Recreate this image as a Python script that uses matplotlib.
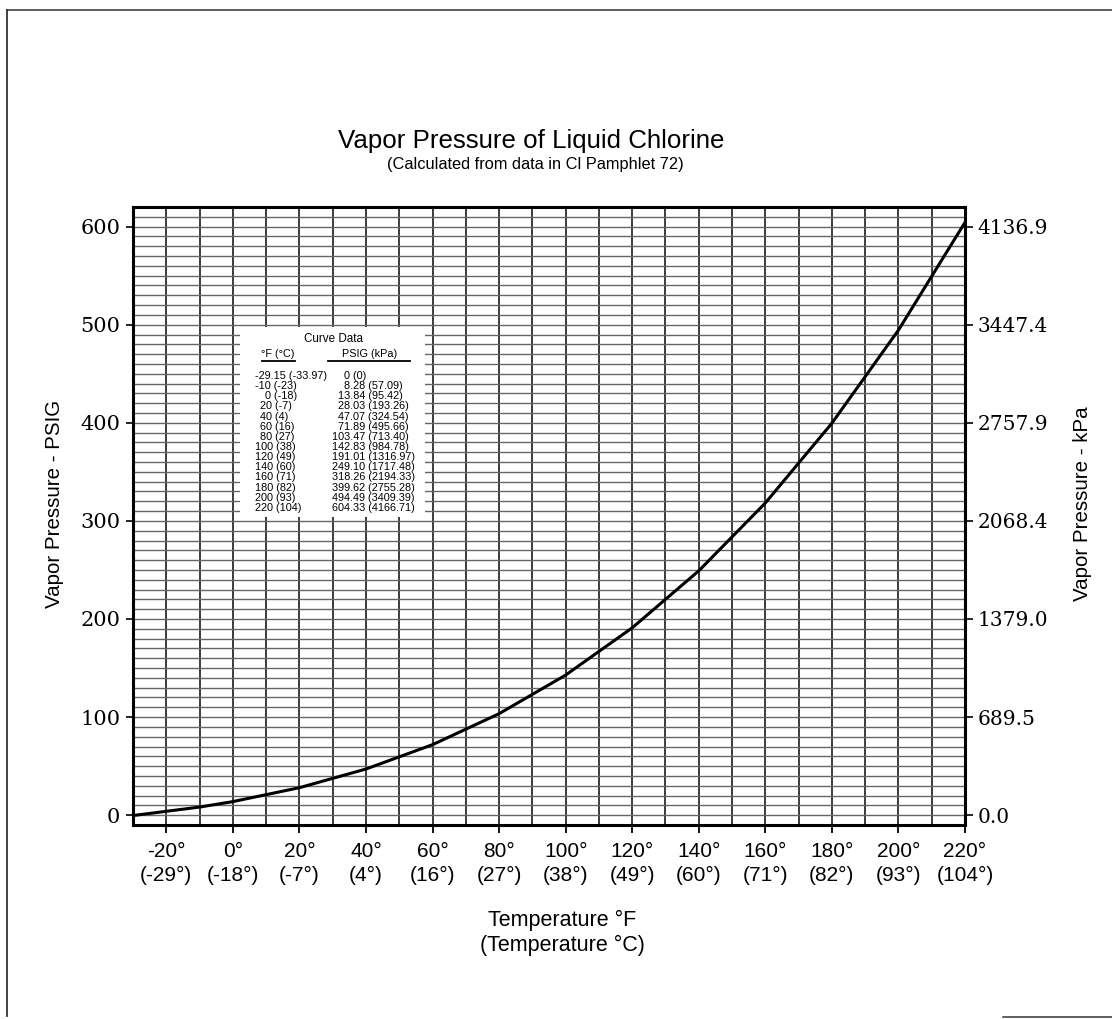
import matplotlib
matplotlib.use("Agg")
import matplotlib.pyplot as plt
from matplotlib.ticker import MultipleLocator, FixedLocator, FixedFormatter
from matplotlib.patches import Rectangle
from matplotlib.lines import Line2D

# ---------------- data ----------------
temp_f = [-29.15, -10, 0, 20, 40, 60, 80, 100, 120, 140, 160, 180, 200, 220]
temp_c = [-33.97, -23, -18, -7, 4, 16, 27, 38, 49, 60, 71, 82, 93, 104]
psig = [0, 8.28, 13.84, 28.03, 47.07, 71.89, 103.47, 142.83, 191.01, 249.10,
        318.26, 399.62, 494.49, 604.33]
kpa = [0, 57.09, 95.42, 193.26, 324.54, 495.66, 713.40, 984.78, 1316.97,
       1717.48, 2194.33, 2755.28, 3409.39, 4166.71]

xtick_f = [-20, 0, 20, 40, 60, 80, 100, 120, 140, 160, 180, 200, 220]
xtick_c = [-29, -18, -7, 4, 16, 27, 38, 49, 60, 71, 82, 93, 104]
ytick_psig = [0, 100, 200, 300, 400, 500, 600]
ytick_kpa = ["0.0", "689.5", "1379.0", "2068.4", "2757.9", "3447.4", "4136.9"]

title = "Vapor Pressure of Liquid Chlorine"
subtitle = "(Calculated from data in Cl Pamphlet 72)"

SANS = "Liberation Sans"
SERIF = "DejaVu Serif"

W, H = 1112, 1019
fig = plt.figure(figsize=(W / 100, H / 100), dpi=100)
fig.patch.set_facecolor("white")

L, R, T, B = 133, 965, 207, 825
ax = fig.add_axes([L / W, 1 - B / H, (R - L) / W, (B - T) / H])
ax.set_xlim(-30, 220)
ax.set_ylim(-10, 620)

# grid
ax.set_axisbelow(True)
ax.xaxis.set_minor_locator(MultipleLocator(10))
ax.yaxis.set_minor_locator(MultipleLocator(10))
ax.xaxis.set_major_locator(FixedLocator(xtick_f))
ax.yaxis.set_major_locator(FixedLocator(ytick_psig))
ax.grid(which="both", axis="x", color="#1a1a1a", lw=1.2)
ax.grid(which="both", axis="y", color="#666666", lw=1.0)
ax.tick_params(which="minor", length=0)

# frame
for s in ax.spines.values():
    s.set_linewidth(2.2)
    s.set_color("black")

# curve
ax.plot(temp_f, psig, color="black", lw=2.2, solid_joinstyle="round", zorder=4)

# ticks
ax.xaxis.set_major_formatter(FixedFormatter([f"{f}°\n({c}°)" for f, c in zip(xtick_f, xtick_c)]))
ax.tick_params(axis="x", which="major", direction="out", length=6, width=1.3,
               pad=6, labelsize=15)
for lab in ax.get_xticklabels():
    lab.set_family(SANS)
    lab.set_linespacing(1.38)
ax.tick_params(axis="y", which="major", direction="out", length=5, width=1.2,
               pad=4, labelsize=15)
for lab in ax.get_yticklabels():
    lab.set_family(SERIF)

ax2 = ax.twinx()
ax2.set_ylim(ax.get_ylim())
ax2.yaxis.set_major_locator(FixedLocator(ytick_psig))
ax2.yaxis.set_major_formatter(FixedFormatter(ytick_kpa))
ax2.tick_params(axis="y", direction="out", length=6, width=1.2, pad=3, labelsize=14.5)
for lab in ax2.get_yticklabels():
    lab.set_family(SERIF)
for s in ax2.spines.values():
    s.set_visible(False)

# curve-data table
def axx(px):
    return (px - L) / (R - L)

def axy(py):
    return 1 - (py - T) / (B - T)

ax.add_patch(Rectangle((axx(240), axy(517)), axx(425) - axx(240), axy(327) - axy(517),
                       transform=ax.transAxes, facecolor="white", edgecolor="none", zorder=2))

tfs = 7.8
ax.text(axx(333), axy(339), "Curve Data", transform=ax.transAxes, ha="center",
        va="center", fontsize=tfs + 0.6, family=SANS, zorder=3)
ax.text(axx(278), axy(354), "°F (°C)", transform=ax.transAxes, ha="center",
        va="center", fontsize=tfs, family=SANS, zorder=3)
ax.text(axx(370), axy(354), "PSIG (kPa)", transform=ax.transAxes, ha="center",
        va="center", fontsize=tfs, family=SANS, zorder=3)
for a, b in [(262, 295), (328, 410)]:
    ax.add_line(Line2D([axx(a), axx(b)], [axy(361), axy(361)], transform=ax.transAxes,
                       color="black", lw=1.3, zorder=3))

def fmt_num(v):
    return f"{v:g}" if float(v).is_integer() else f"{v:.2f}"

for i, (f, c, p, k) in enumerate(zip(temp_f, temp_c, psig, kpa)):
    ypx = 376 + i * 10.15
    s1 = f"{fmt_num(f)} ({fmt_num(c)})"
    ip = str(int(f)) if f != -29.15 else "-29"
    x1px = 255 + (3 - len(ip)) * 5
    s2 = f"{fmt_num(p)} ({fmt_num(k)})"
    nint = len(str(int(p)))
    x2px = 332 + (3 - nint) * 6
    ax.text(axx(x1px), axy(ypx), s1, transform=ax.transAxes, ha="left", va="center",
            fontsize=tfs, family=SANS, zorder=3)
    ax.text(axx(x2px), axy(ypx), s2, transform=ax.transAxes, ha="left", va="center",
            fontsize=tfs, family=SANS, zorder=3)

# titles and labels
fig.text(531 / W, 1 - 141 / H, title, ha="center", va="center", fontsize=18.6, family=SANS)
fig.text(535 / W, 1 - 165 / H, subtitle, ha="center", va="center", fontsize=11.8, family=SANS)
fig.text(562 / W, 1 - 920 / H, "Temperature °F", ha="center", va="center", fontsize=15.5, family=SANS)
fig.text(562 / W, 1 - 945 / H, "(Temperature °C)", ha="center", va="center", fontsize=15.5, family=SANS)
fig.text(55 / W, 1 - 504 / H, "Vapor Pressure - PSIG", rotation=90, ha="center", va="center",
         fontsize=14.8, family=SANS)
fig.text(1083 / W, 1 - 504 / H, "Vapor Pressure - kPa", rotation=90, ha="center", va="center",
         fontsize=14.8, family=SANS)

# page border of the scanned sheet
fig.add_artist(Line2D([7 / W, 7 / W], [1 - 1016 / H, 1 - 10 / H], color="#333333", lw=1.3))
fig.add_artist(Line2D([7 / W, 1.0], [1 - 10 / H, 1 - 10 / H], color="#333333", lw=1.1))
fig.add_artist(Line2D([1003 / W, 1.0], [1 - 1017 / H, 1 - 1017 / H], color="#333333", lw=1.1))

fig.savefig("out.png", dpi=100, facecolor="white")
